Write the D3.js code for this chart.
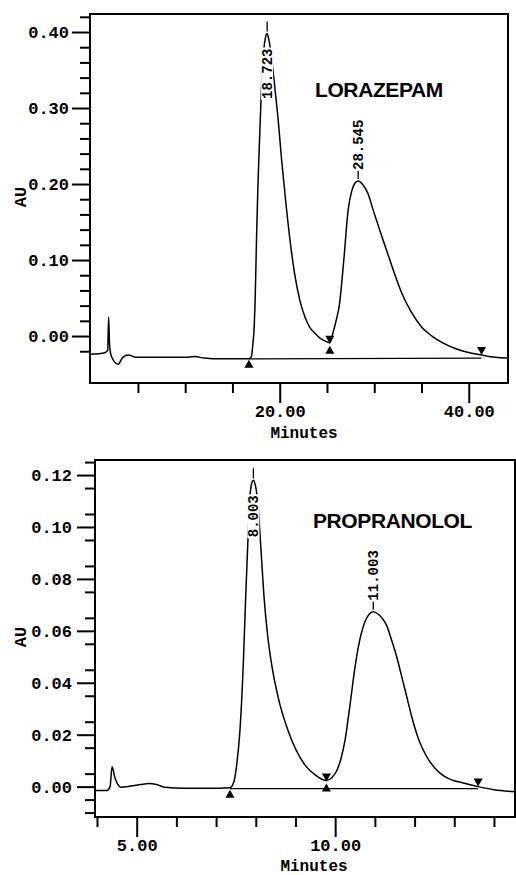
<!DOCTYPE html>
<html><head><meta charset="utf-8">
<script src="https://cdn.jsdelivr.net/npm/d3@7"></script>
<style>body{margin:0;background:#fff}svg{display:block}</style>
</head><body><svg id="c" width="516" height="875"></svg>
<script>
// ---------- DATA: Lorazepam chromatogram ----------
const lorTime = [0,1.5,1.8,1.9,2.0,2.2,2.9,3.4,4.0,4.8,6,8,10,11,12,13,15,16.74,17.0,17.15,17.3,17.4,17.55,17.7,17.9,18.1,18.3,18.5,18.67,18.8,18.95,19.14,19.5,19.84,20.2,20.62,21.1,21.6,22.13,22.7,23.2,23.7,24.3,24.9,25.3,25.65,26.0,26.3,26.78,27.24,27.6,27.95,28.3,28.8,29.35,29.88,30.7,31.65,32.2,32.89,33.9,35.0,36.1,37.25,38.5,39.76,41.35,42.8,44.15];
const lorAU   = [-0.024,-0.022,-0.019,0.025,-0.012,-0.027,-0.037,-0.028,-0.025,-0.028,-0.028,-0.028,-0.028,-0.027,-0.029,-0.030,-0.030,-0.030,-0.027,-0.012,0.012,0.047,0.13,0.20,0.27,0.335,0.375,0.393,0.398,0.393,0.383,0.366,0.325,0.284,0.232,0.179,0.125,0.080,0.047,0.024,0.011,0.004,-0.003,-0.007,-0.009,0.005,0.022,0.040,0.100,0.166,0.190,0.201,0.204,0.199,0.187,0.166,0.135,0.100,0.080,0.057,0.032,0.012,0.000,-0.009,-0.016,-0.021,-0.025,-0.028,-0.029];
const lorPeakTime  = [18.67, 28.3];
const lorPeakAU    = [0.398, 0.204];
const lorPeakLabel = ["18.723", "28.545"];
const lorMarkTime  = [16.74, 25.3, 41.35];   // start, valley, end
const lorMarkTrace = [-0.030, -0.009, -0.025];
const lorBaseAU    = [-0.030, -0.030, -0.029];
const lorXMajor = [20, 40];
const lorXMinor = [5, 10, 15, 25, 30, 35];
const lorYMajor = [0.00, 0.10, 0.20, 0.30, 0.40];
const lorYMinor = [-0.02, 0.02, 0.04, 0.06, 0.08, 0.12, 0.14, 0.16, 0.18, 0.22, 0.24, 0.26, 0.28, 0.32, 0.34, 0.36, 0.38, 0.42];

// ---------- DATA: Propranolol chromatogram ----------
const proTime = [3.95,4.25,4.33,4.38,4.45,4.52,4.6,4.85,5.1,5.3,5.5,5.7,6.2,6.8,7.35,7.45,7.52,7.6,7.685,7.745,7.81,7.85,7.9,7.94,7.99,8.06,8.12,8.21,8.3,8.4,8.57,8.82,9.24,9.5,9.78,9.92,10.05,10.15,10.25,10.37,10.5,10.62,10.75,10.86,10.96,11.08,11.2,11.3,11.42,11.55,11.65,11.76,11.97,12.12,12.3,12.64,12.9,13.23,13.6,14.0,14.53];
const proAU   = [-0.0015,-0.0015,0.0,0.0077,0.0035,0.001,-0.0002,0.0002,0.0008,0.0012,0.0008,-0.0002,-0.0006,-0.0006,-0.0004,0.002,0.0085,0.0213,0.047,0.0727,0.098,0.111,0.117,0.118,0.116,0.108,0.094,0.0727,0.058,0.047,0.034,0.0213,0.0083,0.0045,0.0024,0.0035,0.0065,0.011,0.018,0.031,0.046,0.0565,0.0635,0.0665,0.0674,0.0665,0.0645,0.062,0.0565,0.050,0.044,0.0373,0.0246,0.0175,0.0117,0.0052,0.0028,0.0014,0.0,-0.0012,-0.002];
const proPeakTime  = [7.94, 10.96];
const proPeakAU    = [0.118, 0.0674];
const proPeakLabel = ["8.003", "11.003"];
const proMarkTime  = [7.35, 9.78, 13.6];
const proMarkTrace = [-0.0004, 0.0024, 0.0];
const proBaseAU    = [-0.0008, -0.0008, -0.0008];
const proXMajor = [5, 10];
const proXMinor = [4, 6, 7, 8, 9, 11, 12, 13, 14];
const proYMajor = [0.00, 0.02, 0.04, 0.06, 0.08, 0.10, 0.12];
const proYMinor = [-0.01, -0.005, 0.005, 0.015, 0.025, 0.035, 0.045, 0.055, 0.065, 0.075, 0.085, 0.095, 0.105, 0.115, 0.125];

const MONO = "'Liberation Mono','Courier New',monospace";
const SANS = "'Liberation Sans',Arial,sans-serif";
const svg = d3.select("#c");

function panel(cfg) {
  const g = svg.append("g");
  const x = d3.scaleLinear().domain(cfg.xDomain).range([cfg.l, cfg.r]);
  const y = d3.scaleLinear().domain(cfg.yDomain).range([cfg.b, cfg.t]);

  const yMin = g.append("g").attr("transform", `translate(${cfg.l},0)`)
    .call(d3.axisLeft(y).tickValues(cfg.yMinor).tickSize(10).tickFormat(""));
  const yMaj = g.append("g").attr("transform", `translate(${cfg.l},0)`)
    .call(d3.axisLeft(y).tickValues(cfg.yMajor).tickSize(18).tickPadding(cfg.yPad).tickFormat(d3.format(".2f")));
  const xMin = g.append("g").attr("transform", `translate(0,${cfg.b})`)
    .call(d3.axisBottom(x).tickValues(cfg.xMinor).tickSize(10).tickFormat(""));
  const xMaj = g.append("g").attr("transform", `translate(0,${cfg.b})`)
    .call(d3.axisBottom(x).tickValues(cfg.xMajor).tickSize(20).tickPadding(2).tickFormat(d3.format(".2f")));
  [yMin, yMaj, xMin, xMaj].forEach(a => {
    a.select(".domain").remove();
    a.selectAll("line").attr("stroke", "#000").attr("stroke-width", 2);
    a.selectAll("text").attr("fill", "#000").style("font-family", MONO)
      .style("font-weight", "bold").style("font-size", "17px");
  });

  // frame
  g.append("rect").attr("x", cfg.l).attr("y", cfg.t)
    .attr("width", cfg.r - cfg.l).attr("height", cfg.b - cfg.t)
    .attr("fill", "none").attr("stroke", "#000").attr("stroke-width", 2);

  // integration baseline
  g.append("line")
    .attr("x1", x(cfg.markT[0])).attr("y1", y(cfg.baseV[0]))
    .attr("x2", x(cfg.markT[2])).attr("y2", y(cfg.baseV[2]))
    .attr("stroke", "#000").attr("stroke-width", 1.3);

  // trace
  const pts = cfg.time.map((t, i) => [t, cfg.au[i]]);
  g.append("path").datum(pts)
    .attr("d", d3.line().x(d => x(d[0])).y(d => y(d[1])).curve(d3.curveMonotoneX))
    .attr("fill", "none").attr("stroke", "#000").attr("stroke-width", 1.5);

  // markers
  const tri = (cx, tipY, dir) => {
    const p = d3.path();
    p.moveTo(cx, tipY); p.lineTo(cx - 4.5, tipY + dir * 8); p.lineTo(cx + 4.5, tipY + dir * 8); p.closePath();
    g.append("path").attr("d", p.toString()).attr("fill", "#000");
  };
  tri(x(cfg.markT[0]), y(cfg.baseV[0]) + 1, 1);
  const vx = x(cfg.markT[1]), vy = y(cfg.markV[1]);
  tri(vx, vy + 1, -1);
  tri(vx, vy + 3, 1);
  tri(x(cfg.markT[2]), y(cfg.markV[2]), -1);

  // peak labels
  cfg.peakT.forEach((t, i) => {
    const px = x(t), py = y(cfg.peakV[i]);
    if (i === 0) {
      g.append("line").attr("x1", px).attr("x2", px).attr("y1", py - 2).attr("y2", py - 12)
        .attr("stroke", "#000").attr("stroke-width", 1.3);
      const lg = g.append("g").attr("transform", `translate(${px},${py + 15}) rotate(-90)`);
      const rect = lg.append("rect").attr("fill", "#fff");
      const tx = lg.append("text").attr("text-anchor", "end").attr("dy", "0.35em")
        .style("font-family", MONO).style("font-weight", "bold").style("font-size", "14px")
        .text(cfg.peakL[i]);
      const len = tx.node().getComputedTextLength();
      rect.attr("x", -len - 1).attr("y", -6).attr("width", len + 2).attr("height", 12);
    } else {
      g.append("line").attr("x1", px).attr("x2", px).attr("y1", py - 2).attr("y2", py - 10)
        .attr("stroke", "#000").attr("stroke-width", 1.3);
      g.append("g").attr("transform", `translate(${px},${py - 11}) rotate(-90)`)
        .append("text").attr("text-anchor", "start").attr("dy", "0.35em")
        .style("font-family", MONO).style("font-weight", "bold").style("font-size", "14px")
        .text(cfg.peakL[i]);
    }
  });

  // compound name
  g.append("text").attr("x", cfg.nameX).attr("y", cfg.nameY)
    .style("font-family", SANS).style("font-weight", "bold").style("font-size", "21px")
    .style("letter-spacing", "-0.4px").text(cfg.name);

  // axis titles
  g.append("text").attr("transform", `translate(${cfg.auX},${cfg.auY}) rotate(-90)`)
    .attr("text-anchor", "middle").attr("dy", "0.35em")
    .style("font-family", MONO).style("font-weight", "bold").style("font-size", "17px").text("AU");
  g.append("text").attr("x", cfg.minX).attr("y", cfg.minY).attr("text-anchor", "middle")
    .style("font-family", MONO).style("font-weight", "bold").style("font-size", "16px").text("Minutes");
}

panel({
  l: 90, r: 508, t: 14, b: 383,
  xDomain: [-0.07, 44.15], yDomain: [-0.0618, 0.4237],
  xMajor: lorXMajor, xMinor: lorXMinor, yMajor: lorYMajor, yMinor: lorYMinor, yPad: 3,
  time: lorTime, au: lorAU,
  peakT: lorPeakTime, peakV: lorPeakAU, peakL: lorPeakLabel,
  markT: lorMarkTime, markV: lorMarkTrace, baseV: lorBaseAU,
  name: "LORAZEPAM", nameX: 315, nameY: 97,
  auX: 20, auY: 197, minX: 304, minY: 438
});
panel({
  l: 95, r: 515, t: 460, b: 817,
  xDomain: [3.95, 14.53], yDomain: [-0.0117, 0.1258],
  xMajor: proXMajor, xMinor: proXMinor, yMajor: proYMajor, yMinor: proYMinor, yPad: 5,
  time: proTime, au: proAU,
  peakT: proPeakTime, peakV: proPeakAU, peakL: proPeakLabel,
  markT: proMarkTime, markV: proMarkTrace, baseV: proBaseAU,
  name: "PROPRANOLOL", nameX: 313, nameY: 528,
  auX: 20, auY: 637, minX: 314, minY: 871
});
</script></body></html>
